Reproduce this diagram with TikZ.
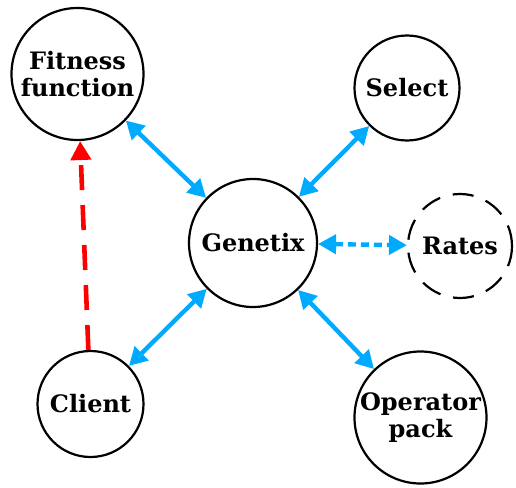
\documentclass[tikz,border=0pt]{standalone}
\usepackage{fontspec}
\setmainfont{DejaVu Serif}
\usetikzlibrary{arrows.meta}
\definecolor{linkblue}{RGB}{0,170,255}
\tikzset{
  x=1pt, y=-1pt,
  ball/.style={circle, draw=black, line width=2.2pt, inner sep=0pt, align=center,
    font=\fontsize{24}{27}\selectfont\bfseries},
  link/.style={draw=linkblue, line width=4.4pt, {Triangle[length=18pt,width=19pt]}-{Triangle[length=18pt,width=19pt]}},
  dotlink/.style={link, dash pattern=on 8pt off 5pt},
  redlink/.style={draw=red, line width=4.6pt, dash pattern=on 25pt off 15pt, -{Triangle[length=19pt,width=20pt]}}
}
\begin{document}
\begin{tikzpicture}
\useasboundingbox (0,0) rectangle (516,487);
\node[ball, minimum size=132pt] (fit) at (77.5,74) {Fitness\\function};
\node[ball, minimum size=105pt] (sel) at (407,88) {Select};
\node[ball, minimum size=128pt] (gen) at (253,243) {Genetix};
\node[ball, minimum size=104pt, dash pattern=on 21pt off 13pt] (rat) at (460,246) {Rates};
\node[ball, minimum size=106pt] (cli) at (90.5,404) {Client};
\node[ball, minimum size=132pt] (op) at (420.5,417.5) {Operator\\pack};
\draw[link] (gen) -- (fit);
\draw[link] (gen) -- (sel);
\draw[link] (gen) -- (cli);
\draw[link] (gen) -- (op);
\draw[dotlink] (gen) -- (rat);
\draw[redlink] (cli) -- (fit);
\end{tikzpicture}
\end{document}
